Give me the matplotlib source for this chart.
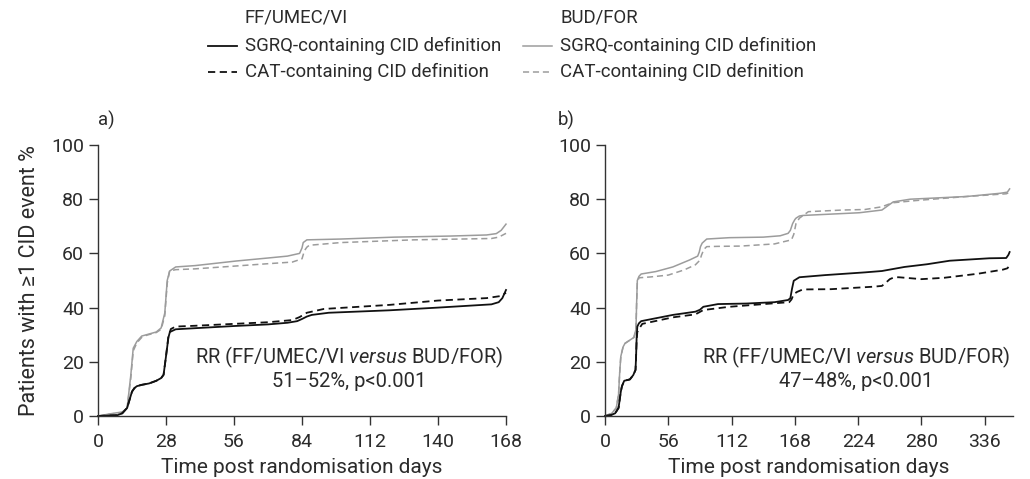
import matplotlib
matplotlib.use("Agg")
import matplotlib.pyplot as plt
from matplotlib.lines import Line2D

plt.rcParams['font.family'] = ['Roboto', 'DejaVu Sans']
plt.rcParams['mathtext.fontset'] = 'custom'
plt.rcParams['mathtext.rm'] = 'Roboto'
plt.rcParams['mathtext.it'] = 'Roboto:italic'

TXT = '#2b2b2b'
BLACK = '#111111'
GRAY = '#9c9c9c'

# ---------------- Panel a (168 days) ----------------
a_bud_sgrq_x = [0, 5, 10, 12, 13.5, 14.5, 16, 18, 20, 24, 26, 27.5, 28.5, 29.5, 32, 40, 57, 70, 78, 83, 84, 84.5, 86, 100, 122, 145, 160, 164, 166, 168]
a_bud_sgrq_y = [0, 0.8, 1.5, 3, 15, 25, 27.5, 29.5, 30, 31, 32.5, 38, 50, 53.5, 55, 55.5, 57.2, 58.3, 59, 60, 62, 64, 65, 65.3, 66, 66.4, 66.8, 67.3, 68.5, 70.8]

a_bud_cat_x = [0, 5, 10, 12, 13.5, 14.5, 16, 18, 20, 24, 26, 27.5, 28.5, 29.5, 32, 40, 56, 70, 80, 84, 85, 86, 87, 100, 130, 162, 165, 168]
a_bud_cat_y = [0, 0.7, 1.3, 2.8, 14, 24, 27, 29, 29.8, 30.8, 32, 37, 49, 53.5, 54, 54.3, 55.3, 56.2, 56.8, 58, 61, 62.3, 63, 64, 65, 65.5, 66, 67.4]

a_ff_sgrq_x = [0, 8, 10, 12, 13, 14, 15, 16, 18, 21, 24, 26, 27, 28, 29, 29.6, 32, 40, 56, 70, 78, 82, 84, 86, 88, 95, 120, 140, 162, 165, 166.5, 168]
a_ff_sgrq_y = [0, 0.3, 1, 3, 6, 9, 10.3, 11, 11.5, 12, 13, 14, 15.2, 22, 29, 31, 32, 32.4, 33.2, 33.8, 34.4, 35, 35.8, 36.7, 37.3, 38.1, 39, 40, 41.2, 42, 43.5, 46.5]

a_ff_cat_x = [0, 8, 10, 12, 13, 14, 15, 16, 18, 21, 24, 26, 27, 28, 29, 30, 32, 40, 56, 70, 80, 83, 86, 93, 120, 140, 160, 166, 168]
a_ff_cat_y = [0, 0.3, 1, 3, 6, 9, 10.3, 11, 11.5, 12, 13, 14, 15.2, 22, 29.5, 32.1, 33, 33.3, 34, 34.6, 35.4, 36.5, 38.1, 39.5, 41, 42.6, 43.5, 44.3, 45.5]

# ---------------- Panel b (~361 days) ----------------
b_bud_sgrq_x = [0, 6, 10, 12, 13, 14, 16, 17.7, 22, 25.6, 27.4, 28, 28.6, 30, 32, 45, 60, 75, 82, 83.4, 84.5, 86, 90, 110, 140, 155, 162, 164, 166, 168, 169, 172, 175, 200, 225, 245, 250, 255, 270, 320, 350, 356, 358]
b_bud_sgrq_y = [0, 1, 3, 8, 16, 22, 25.5, 26.8, 28, 29, 32, 42, 50, 51.5, 52.4, 53.3, 55, 57.6, 59, 60.5, 62.5, 63.8, 65.3, 65.8, 66, 66.5, 67.4, 68.5, 71, 72.5, 73, 73.8, 74, 74.5, 75, 76, 77.5, 79, 80, 81, 82.2, 82.6, 83.8]

b_bud_cat_x = [0, 6, 10, 12, 13, 14, 16, 17.7, 22, 25.6, 27.4, 28, 28.6, 30, 40, 56, 70, 80, 84, 85.5, 87.5, 90, 100, 120, 150, 165, 167, 169, 172, 180, 210, 230, 245, 250, 255, 275, 320, 355, 358]
b_bud_cat_y = [0, 1, 3, 8, 16, 22, 25.5, 26.8, 28, 29, 32, 42, 49, 51, 51.3, 52, 53.9, 55.8, 57.5, 59.5, 61.5, 62.5, 62.6, 62.7, 63.5, 65, 67, 71, 73, 75.4, 76, 76.2, 77.2, 78, 78.7, 79.5, 81, 82, 82.5]

b_ff_sgrq_x = [0, 5, 9, 12, 13, 14, 15, 17, 22, 25, 27, 27.5, 28, 28.6, 30, 32, 38, 60, 80, 84, 87, 100, 125, 150, 162, 164, 165.5, 167, 172, 195, 230, 245, 265, 285, 305, 340, 355, 357, 358]
b_ff_sgrq_y = [0, 0.3, 1, 3, 6, 9, 11, 13, 13.5, 15.1, 17, 22, 29, 33, 34.2, 35, 35.5, 37.3, 38.5, 39.2, 40.3, 41.3, 41.5, 42, 42.8, 43.5, 47, 49.9, 51.2, 52, 53, 53.5, 55, 56, 57.3, 58.2, 58.3, 59.5, 60.5]

b_ff_cat_x = [0, 5, 9, 12, 13, 14, 15, 17, 22, 25, 27, 27.5, 28, 28.6, 30, 33, 60, 80, 87, 110, 150, 163, 165, 167, 170, 175, 200, 237, 245, 248, 252, 256, 260, 280, 300, 330, 352, 356, 358]
b_ff_cat_y = [0, 0.3, 1, 3, 6, 9, 11, 13, 13.5, 15.1, 17, 22, 28, 31, 32.1, 34, 36.4, 37.5, 39.1, 40.3, 41.6, 42, 43, 45, 45.8, 46.7, 46.8, 47.7, 48, 49, 50.5, 51.2, 51.2, 50.5, 51, 52.5, 54, 54.5, 55.5]

a_xticks = [0, 28, 56, 84, 112, 140, 168]
b_xticks = [0, 56, 112, 168, 224, 280, 336]
yticks = [0, 20, 40, 60, 80, 100]

fig = plt.figure(figsize=(10.30, 4.79), dpi=100)
W, H = 1030, 479

def px(x, y):
    return x / W, 1 - y / H

ax_a = fig.add_axes([98 / W, 1 - 416 / H, (506 - 98) / W, (416 - 145) / H])
ax_b = fig.add_axes([605 / W, 1 - 416 / H, (1013 - 605) / W, (416 - 145) / H])

FS_TICK = 14
FS_XLAB = 15
FS_YLAB = 15.5
FS_LEG = 13.4
FS_ANN = 14.5

def style(ax, xmax, xticks):
    ax.set_xlim(0, xmax)
    ax.set_ylim(0, 100)
    ax.set_xticks(xticks)
    ax.set_yticks(yticks)
    for s in ['top', 'right']:
        ax.spines[s].set_visible(False)
    for s in ['left', 'bottom']:
        ax.spines[s].set_color('#333333')
        ax.spines[s].set_linewidth(1.0)
    ax.tick_params(direction='out', length=6.5, width=1.0, colors='#333333',
                   labelsize=FS_TICK, labelcolor=TXT, pad=3.5)
    ax.tick_params(axis='x', pad=5.5)
    ax.set_xlabel('Time post randomisation days', fontsize=FS_XLAB, color=TXT, labelpad=5.5)
    ax.patch.set_visible(False)

for ax, data, xmax, xt in [
    (ax_a, (a_bud_sgrq_x, a_bud_sgrq_y, a_bud_cat_x, a_bud_cat_y,
            a_ff_sgrq_x, a_ff_sgrq_y, a_ff_cat_x, a_ff_cat_y), 168, a_xticks),
    (ax_b, (b_bud_sgrq_x, b_bud_sgrq_y, b_bud_cat_x, b_bud_cat_y,
            b_ff_sgrq_x, b_ff_sgrq_y, b_ff_cat_x, b_ff_cat_y), 361, b_xticks),
]:
    bsx, bsy, bcx, bcy, fsx, fsy, fcx, fcy = data
    ax.plot(bcx, bcy, color=GRAY, lw=1.1, ls=(0, (4, 2.5)), clip_on=False)
    ax.plot(bsx, bsy, color=GRAY, lw=1.1, ls='-', clip_on=False)
    ax.plot(fcx, fcy, color=BLACK, lw=1.3, ls=(0, (4, 2.5)), clip_on=False)
    ax.plot(fsx, fsy, color=BLACK, lw=1.3, ls='-', clip_on=False)
    style(ax, xmax, xt)

ax_a.set_ylabel('Patients with \u22651 CID event %', fontsize=FS_YLAB, color=TXT, labelpad=8)

# annotations
for ax, line2 in [(ax_a, '51\u201352%, p<0.001'), (ax_b, '47\u201348%, p<0.001')]:
    ax.text(0.615, 0.218, 'RR (FF/UMEC/VI $\\mathit{versus}$ BUD/FOR)', transform=ax.transAxes,
            ha='center', va='center', fontsize=FS_ANN, color=TXT)
    ax.text(0.615, 0.129, line2, transform=ax.transAxes,
            ha='center', va='center', fontsize=FS_ANN, color=TXT)

# panel labels
fig.text(*px(98, 120), 'a)', fontsize=FS_LEG, color=TXT, ha='left', va='center')
fig.text(*px(558, 120), 'b)', fontsize=FS_LEG, color=TXT, ha='left', va='center')

# legend (manual)
def leg_entry(x0, y, color, ls, lw, label):
    fig.lines.append(Line2D([x0 / W, (x0 + 29) / W], [1 - y / H, 1 - y / H],
                            color=color, ls=ls, lw=lw, transform=fig.transFigure))
    fig.text((x0 + 37) / W, 1 - y / H, label, fontsize=FS_LEG, color=TXT, ha='left', va='center')

fig.text(*px(245, 18), 'FF/UMEC/VI', fontsize=FS_LEG, color=TXT, ha='left', va='center')
leg_entry(208, 46, BLACK, '-', 1.3, 'SGRQ-containing CID definition')
leg_entry(208, 72, BLACK, (0, (4, 2.5)), 1.3, 'CAT-containing CID definition')

fig.text(*px(560, 18), 'BUD/FOR', fontsize=FS_LEG, color=TXT, ha='left', va='center')
leg_entry(523, 46, GRAY, '-', 1.1, 'SGRQ-containing CID definition')
leg_entry(523, 72, GRAY, (0, (4, 2.5)), 1.1, 'CAT-containing CID definition')

fig.savefig('out.png', dpi=100)
